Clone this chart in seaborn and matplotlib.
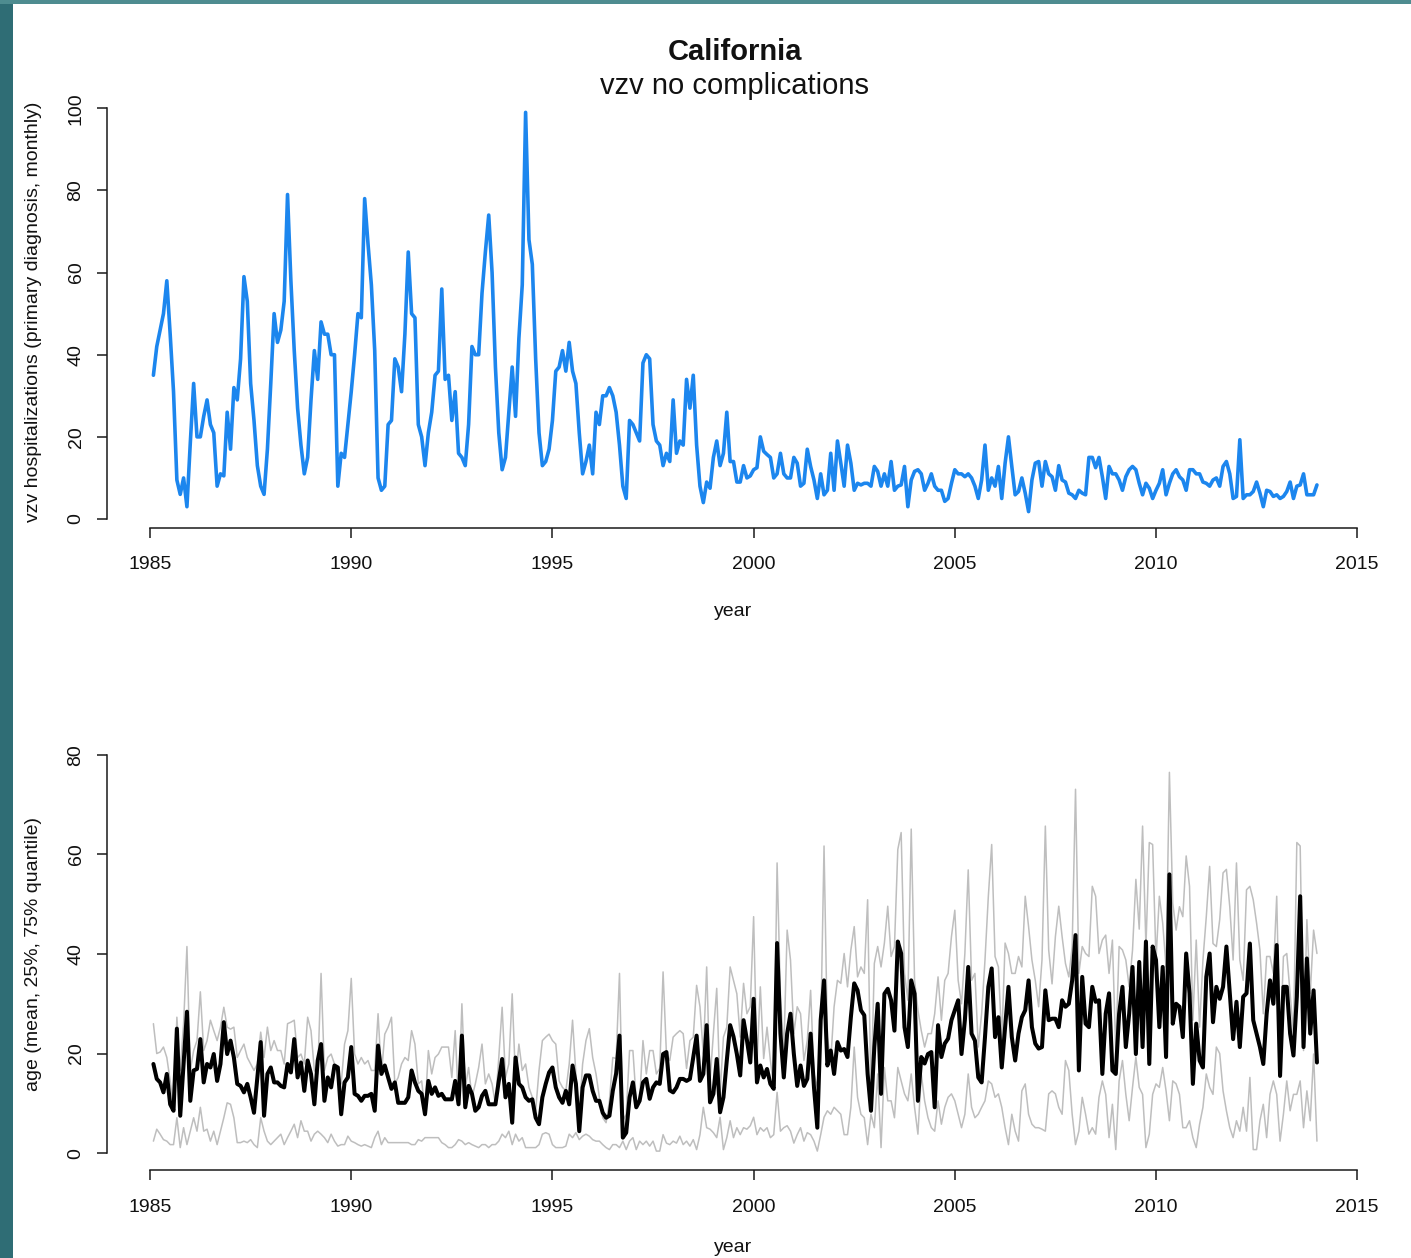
import numpy as np
import pandas as pd
import matplotlib
matplotlib.use("Agg")
import matplotlib.pyplot as plt
import seaborn as sns
from matplotlib.patches import Rectangle

# ---------------- data ----------------
START_YEAR = 1985          # monthly observations, first one plotted at 1985 + 1/12
TITLE = "California"
SUBTITLE = "vzv no complications"
X_TICKS = [1985, 1990, 1995, 2000, 2005, 2010, 2015]
TOP_Y_TICKS = [0, 20, 40, 60, 80, 100]
BOTTOM_Y_TICKS = [0, 20, 40, 60, 80]
TOP_YLABEL = "vzv hospitalizations (primary diagnosis, monthly)"
BOTTOM_YLABEL = "age (mean, 25%, 75% quantile)"
XLABEL = "year"

hospitalizations = [
    35, 42, 46, 50, 58, 45, 31, 9.5, 6, 10, 3, 18.5,
    33, 20, 20, 25, 29, 23, 21, 8, 11, 10.5, 26, 17,
    32, 29, 39, 59, 53, 33, 24, 13, 8, 6, 17, 33,
    50, 43, 46, 53, 79, 58, 41, 27, 18, 11, 15, 29,
    41, 34, 48, 45, 45, 40, 40, 8, 16, 15, 23, 31,
    40, 50, 49, 78, 67, 57, 41, 10, 7, 8, 23, 24,
    39, 37, 31, 45, 65, 50, 49, 23, 20, 13, 21, 26,
    35, 36, 56, 34, 35, 24, 31, 16, 15, 13, 23, 42,
    40, 40, 55, 65, 74, 60, 37, 21, 12, 15, 26, 37,
    25, 44, 57, 99, 68, 62, 39, 21, 13, 14, 17, 24,
    36, 37, 41, 36, 43, 36, 33, 21, 11, 14, 18, 11,
    26, 23, 30, 30, 32, 30, 26, 18, 8, 5, 24, 23,
    21, 19, 38, 40, 39, 23, 19, 18, 13, 16, 14, 29,
    16, 19, 18, 34, 27, 35, 18, 8, 4, 9, 7.5, 15,
    19, 13, 16, 26, 14, 14, 9, 9, 13, 10, 10.5, 12,
    12.5, 20, 16.5, 15.7, 15, 10, 11, 16, 11, 10, 10, 15,
    13.6, 8, 8.7, 17, 12.8, 9.5, 5, 11, 5.9, 7, 16, 7,
    19, 13.6, 8, 18, 13.6, 7, 8.7, 8.3, 8.7, 8.7, 8, 12.8,
    11.6, 8, 11, 8, 14, 7, 8, 8.3, 12.8, 3, 9.5, 11.6,
    12, 11, 7, 8.7, 11, 8, 7, 7, 4.3, 5, 8.7, 12,
    11, 11, 10.3, 11, 10, 8, 5, 9.5, 18, 7, 10, 8,
    12.8, 5, 13.6, 20, 12.8, 5.9, 6.7, 10, 6.3, 1.8, 9.5, 13.6,
    14, 8, 14, 11, 10.3, 7, 13, 9.5, 9, 6.3, 5.9, 5,
    7, 6.3, 5.9, 15, 15, 12.5, 15, 10.3, 5, 12.8, 11, 11,
    9.5, 7, 10.3, 12, 12.8, 12, 8.7, 5.9, 8.7, 7.5, 5, 7,
    8.7, 12, 5.9, 8.7, 11, 12, 10.3, 9.5, 7, 12, 12,
    11, 11, 9, 8.7, 8, 9.5, 10, 8, 12.8, 14, 11, 5,
    5.5, 19.3, 5, 5.9, 5.9, 6.7, 9, 6.3, 3, 7, 6.7, 5.5,
    5.9, 5, 5.5, 6.7, 9, 5, 8, 8.3, 11, 5.9, 5.9, 5.9, 8.3,
]

age_mean = [
    17.9, 14.9, 14.2, 12.2, 15.9, 9.8, 8.5, 25.0, 7.5, 17.9, 28.4, 10.5,
    16.6, 16.9, 22.9, 14.2, 17.9, 17.2, 19.9, 14.5, 17.9, 26.3, 19.9, 22.6,
    19.2, 13.9, 13.5, 12.2, 13.9, 11.2, 8.1, 15.2, 22.3, 7.5, 15.9,
    17.2, 14.2, 14.2, 13.5, 13.2, 17.9, 16.2, 22.9, 15.2, 18.2, 12.5, 18.6,
    15.9, 9.8, 18.6, 21.9, 10.5, 15.2, 13.2, 17.6, 17.2, 7.8, 14.2, 15.2,
    21.3, 11.9, 11.5, 10.5, 11.5, 11.5, 11.9, 8.5,
    21.6, 15.9, 17.6, 15.2, 12.9, 14.2, 10.1, 10.1, 10.1, 11.2, 16.6, 14.2,
    12.5, 11.9, 7.8, 14.5, 11.9, 13.2, 11.5, 11.9, 10.8, 10.8, 10.8, 14.5,
    9.8, 23.6, 9.2, 13.5, 11.9, 8.5, 9.2, 11.5, 12.5, 9.8, 9.8, 9.8,
    14.5, 18.9, 11.2, 13.9, 6.1, 19.2, 13.9, 13.2, 11.2, 10.5, 10.8, 7.1,
    5.8, 11.2, 13.9, 16.2, 17.2, 13.2, 11.2, 10.1, 12.5, 9.8, 17.6, 13.9,
    4.4, 13.2, 15.6, 15.6, 12.5, 10.5, 10.5, 8.1, 7.1, 7.5, 12.5, 16.0,
    23.6, 3.1, 4.1, 11.2, 14.2, 9.2, 10.5, 14.2, 14.9, 10.9, 13.2, 14.2,
    13.9, 19.9, 20.3, 12.6, 12.2, 13.2, 14.9, 14.9, 14.5, 14.9, 19.3, 23.6,
    14.5, 15.9, 25.7, 10.2, 11.9, 18.9, 8.2, 11.2, 18.6, 25.7, 23.4, 19.9,
    15.6, 26.7, 22.7, 18.2, 31.0, 14.2, 17.6, 15.2, 16.9, 13.9, 12.9, 42.2,
    24.0, 15.2, 24.0, 28.0, 19.9, 13.5, 17.6, 13.5, 14.9, 24.0, 13.2, 5.1,
    26.7, 34.7, 17.6, 20.6, 15.9, 22.3, 20.6, 20.9, 19.3, 27.3, 34.1, 32.7,
    28.7, 27.7, 15.9, 8.5, 21.3, 30.0, 11.9, 32.0, 33.0, 30.7, 24.6, 42.5,
    40.1, 25.3, 21.3, 34.7, 32.0, 10.5, 19.3, 18.0, 19.9, 20.3, 9.2, 25.7,
    19.3, 22.0, 23.0, 26.7, 28.7, 30.7, 19.9, 26.7, 37.4, 24.0, 22.6, 15.2,
    14.2, 23.3, 33.4, 37.1, 23.3, 27.3, 17.2, 25.3, 33.4, 23.3, 18.6, 24.0,
    27.3, 28.7, 34.7, 25.3, 22.0, 21.0, 21.3, 32.7, 26.7, 27.0, 27.0, 25.3,
    30.7, 29.4, 30.0, 34.7, 43.8, 16.6, 35.4, 26.0, 25.3, 33.4, 30.4, 30.7,
    15.9, 28.0, 32.1, 16.6, 15.9, 28.0, 33.4, 21.3, 28.0, 37.4, 19.9, 38.4,
    21.3, 42.5, 17.9, 41.5, 38.8, 25.3, 37.4, 19.3, 56.0, 26.0, 30.0, 29.4,
    23.3, 40.1, 32.1, 13.9, 26.0, 18.6, 17.2, 35.4, 40.1, 26.3, 33.4, 31.0,
    33.4, 41.5, 32.1, 22.9, 30.4, 21.3, 31.4, 32.1, 42.1, 26.7, 24.0, 21.3,
    17.9, 28.0, 34.7, 30.0, 41.8, 15.5, 33.4, 33.4, 24.0, 19.6, 31.4, 51.6,
    21.3, 39.1, 24.0, 32.7, 18.2,
]

age_q75 = [
    26.0, 20.0, 20.3, 21.3, 19.2, 14.5, 9.2, 27.3, 16.6, 26.0, 41.5, 16.6,
    20.6, 22.6, 32.4, 20.6, 22.6, 26.7, 24.6, 22.6, 25.3, 29.3, 25.3, 24.9,
    25.3, 19.2, 20.6, 21.9, 19.2, 17.9, 16.6, 17.9, 24.3, 19.2, 25.3,
    20.6, 22.6, 20.6, 20.6, 17.9, 26.0, 26.3, 26.7, 19.2, 19.9, 17.9, 27.3,
    24.6, 16.6, 15.9, 36.1, 16.6, 19.2, 19.9, 17.9, 16.6, 13.9, 21.9, 24.6,
    35.1, 19.9, 17.9, 19.2, 17.9, 18.6, 16.6, 16.6,
    28.0, 15.9, 23.9, 25.3, 27.3, 13.9, 15.2, 17.9, 19.2, 18.6, 24.6, 21.9,
    13.9, 14.5, 8.5, 20.6, 15.9, 19.2, 19.9, 21.3, 21.3, 21.3, 15.2, 24.6,
    9.8, 30.0, 13.2, 17.2, 11.2, 13.9, 17.2, 21.9, 13.9, 15.9, 13.9, 9.8,
    19.2, 29.3, 15.2, 17.9, 32.0, 14.5, 21.9, 16.6, 17.9, 13.2, 11.2, 8.5,
    16.6, 22.6, 23.3, 23.9, 22.6, 21.9, 14.5, 13.2, 12.5, 17.9, 26.7, 15.9,
    7.8, 17.9, 22.6, 25.0, 19.2, 15.9, 11.2, 7.1, 6.1, 10.5, 19.2, 19.0,
    36.1, 6.5, 7.8, 20.6, 20.6, 10.5, 10.5, 22.6, 15.9, 20.6, 20.6, 15.9,
    17.0, 36.4, 19.9, 18.6, 23.3, 24.0, 24.6, 24.0, 17.0, 22.6, 23.3, 33.7,
    29.4, 19.9, 37.4, 14.5, 24.0, 33.1, 12.0, 23.3, 25.3, 37.4, 34.7, 32.0,
    23.3, 34.1, 28.0, 29.4, 47.5, 18.0, 33.4, 19.0, 25.3, 18.6, 13.2, 58.3,
    31.4, 20.6, 44.8, 38.8, 24.0, 29.4, 28.0, 18.6, 22.6, 32.7, 15.9, 13.2,
    24.0, 61.7, 23.3, 18.6, 29.4, 34.7, 34.1, 40.1, 33.4, 40.8, 45.5, 35.4,
    37.4, 36.1, 50.9, 11.2, 38.1, 41.5, 37.4, 42.2, 49.6, 39.5, 41.5, 61.0,
    64.4, 36.1, 30.7, 65.1, 34.7, 28.7, 24.6, 21.3, 24.0, 24.0, 28.0, 35.4,
    26.7, 34.7, 36.1, 43.5, 48.8, 34.7, 30.0, 40.1, 56.9, 34.7, 36.1, 21.3,
    28.0, 38.8, 51.6, 62.0, 39.5, 37.4, 22.6, 42.2, 40.1, 36.1, 36.1, 39.5,
    37.4, 51.6, 45.5, 38.8, 34.7, 29.4, 38.8, 65.7, 40.8, 34.0, 43.5, 49.6,
    43.5, 38.1, 35.4, 41.5, 73.1, 36.1, 41.5, 40.1, 39.5, 53.6, 51.6, 40.1,
    42.8, 43.8, 36.1, 42.8, 20.6, 41.5, 40.8, 38.8, 33.4, 40.8, 55.0, 45.0,
    65.7, 41.5, 62.4, 62.0, 38.8, 51.6, 46.2, 37.4, 76.5, 50.2, 44.8, 49.5,
    47.5, 59.7, 53.6, 26.7, 42.8, 25.3, 38.8, 47.5, 57.6, 42.1, 41.5, 46.9,
    56.3, 57.0, 49.5, 38.8, 58.3, 38.8, 34.7, 52.9, 53.6, 50.9, 46.2, 40.8,
    28.0, 39.5, 39.5, 36.1, 51.6, 20.6, 39.5, 40.1, 32.1, 24.0, 62.4, 61.7,
    20.6, 46.9, 32.1, 44.8, 40.1,
]

age_q25 = [
    2.4, 4.8, 3.8, 2.7, 2.4, 1.7, 1.7, 7.1, 1.1, 5.1, 1.7, 4.4,
    7.1, 4.4, 9.2, 4.4, 4.8, 2.4, 4.4, 1.7, 4.4, 7.1, 10.1, 9.8,
    7.1, 2.1, 2.1, 2.4, 2.1, 2.7, 1.7, 1.1, 7.1, 4.4, 2.4,
    1.7, 2.4, 3.1, 3.8, 1.7, 3.1, 4.4, 5.8, 3.1, 6.5, 4.4, 4.4,
    2.4, 3.8, 4.4, 3.8, 3.1, 2.1, 3.8, 2.4, 1.4, 1.7, 1.7, 3.4,
    2.4, 2.1, 1.7, 1.4, 1.7, 1.4, 1.1, 3.1,
    4.4, 1.7, 3.1, 2.1, 2.1, 2.1, 2.1, 2.1, 2.1, 2.1, 1.7, 1.7,
    2.7, 2.4, 3.1, 3.1, 3.1, 3.1, 3.1, 2.1, 1.7, 1.1, 1.1, 1.7,
    2.7, 2.4, 1.7, 2.1, 1.7, 1.4, 1.1, 1.7, 1.7, 1.1, 1.7, 1.7,
    2.4, 3.8, 3.1, 4.4, 1.7, 3.8, 2.4, 3.1, 1.1, 1.1, 1.1, 1.1,
    1.7, 3.8, 4.1, 3.8, 1.7, 1.1, 1.1, 1.1, 1.4, 3.8, 3.1, 4.1,
    2.7, 3.4, 3.8, 3.4, 2.7, 2.4, 2.4, 1.7, 1.1, 0.7, 1.7, 1.7,
    1.1, 2.4, 0.7, 2.4, 3.1, 0.7, 2.4, 1.7, 2.4, 1.4, 2.4, 0.4,
    0.4, 3.7, 2.0, 1.7, 2.4, 2.0, 3.4, 1.7, 2.4, 1.4, 2.7, 0.7,
    3.7, 9.2, 5.1, 4.8, 4.1, 3.1, 7.2, 0.7, 3.1, 6.5, 3.1, 5.1,
    3.7, 5.1, 4.8, 5.5, 7.2, 3.7, 5.1, 4.4, 5.1, 3.1, 3.7, 12.2,
    4.4, 5.1, 5.5, 4.4, 2.0, 3.7, 5.1, 2.4, 4.1, 3.7, 2.4, 0.4,
    3.7, 7.2, 8.5, 7.8, 9.2, 8.5, 7.8, 3.7, 3.7, 9.2, 21.3, 11.2,
    7.8, 7.1, 1.7, 7.8, 5.1, 15.9, 1.1, 17.2, 10.5, 10.5, 7.1, 17.2,
    14.5, 11.9, 10.5, 15.9, 9.2, 3.8, 15.9, 10.5, 7.1, 5.1, 4.4, 10.5,
    5.8, 9.2, 11.2, 11.9, 10.5, 7.8, 5.1, 7.8, 15.9, 9.2, 7.1, 7.8,
    9.2, 10.5, 14.5, 13.9, 11.2, 11.9, 9.2, 5.1, 1.7, 7.8, 4.4, 2.4,
    12.5, 13.9, 7.8, 5.8, 5.1, 5.1, 4.8, 4.4, 11.9, 12.5, 11.9, 9.2,
    7.8, 18.6, 16.6, 7.8, 1.7, 4.4, 11.2, 7.8, 3.8, 5.1, 3.8, 11.2,
    14.5, 11.8, 3.1, 9.8, 0.7, 14.5, 18.6, 11.8, 6.5, 13.2, 19.3, 13.2,
    11.8, 1.1, 3.8, 11.8, 13.9, 13.2, 17.2, 12.5, 6.5, 14.5, 13.9, 11.8,
    5.1, 5.1, 6.5, 3.1, 1.1, 5.8, 9.2, 15.9, 13.2, 11.8, 21.3, 20.0,
    12.5, 8.5, 5.1, 3.1, 6.5, 4.4, 9.2, 4.4, 15.2, 0.7, 0.7, 6.5,
    9.8, 3.1, 11.8, 14.5, 11.8, 2.4, 7.8, 14.5, 8.5, 11.8, 11.8, 14.5,
    5.1, 12.5, 6.5, 19.9, 2.4,
]


def monthly(series):
    """Decimal year of each monthly observation (month k of the series -> 1985 + k/12)."""
    return START_YEAR + np.arange(1, len(series) + 1) / 12.0


top_df = pd.DataFrame({"year": monthly(hospitalizations), "count": hospitalizations})
mean_df = pd.DataFrame({"year": monthly(age_mean), "age": age_mean})
q25_df = pd.DataFrame({"year": monthly(age_q25), "age": age_q25})
q75_df = pd.DataFrame({"year": monthly(age_q75), "age": age_q75})

# ---------------- style ----------------
sns.set_style("ticks")
plt.rcParams["font.family"] = ["Liberation Sans", "DejaVu Sans"]
plt.rcParams["axes.unicode_minus"] = False

W, H = 1411, 1258
fig = plt.figure(figsize=(W / 100, H / 100), dpi=100)
fig.patch.set_facecolor("white")

# teal slide background visible on the left and top edges of the screenshot
fig.add_artist(Rectangle((0, 0), 13 / W, 1, transform=fig.transFigure,
                         facecolor="#2f6d75", edgecolor="none", zorder=-5))
fig.add_artist(Rectangle((0, 1 - 4 / H), 1, 4 / H, transform=fig.transFigure,
                         facecolor="#4e8c90", edgecolor="none", zorder=-5))


def axes_px(left, top, right, bottom):
    return fig.add_axes([left / W, 1 - bottom / H, (right - left) / W, (bottom - top) / H])


ax1 = axes_px(107, 96.4, 1360, 527.6)
ax2 = axes_px(107, 738, 1360, 1170)

XLIM = (1983.93, 2015.07)

# top panel
sns.lineplot(data=top_df, x="year", y="count", ax=ax1, color="#1C86EE",
             linewidth=2.6, estimator=None, sort=False)
lo, hi = min(hospitalizations), max(hospitalizations)
pad = 0.04 * (hi - lo)
ax1.set_ylim(lo - pad, hi + pad)

# bottom panel
for d in (q75_df, q25_df):
    sns.lineplot(data=d, x="year", y="age", ax=ax2, color="#BEBEBE",
                 linewidth=1.1, estimator=None, sort=False)
sns.lineplot(data=mean_df, x="year", y="age", ax=ax2, color="black",
             linewidth=2.9, estimator=None, sort=False)
ax2.set_ylim(BOTTOM_Y_TICKS[0] - 3.4, BOTTOM_Y_TICKS[-1] + 3.4)


def r_style(ax, yticks, ylabel, xlabelpad):
    ax.set_xlim(*XLIM)
    ax.grid(False)
    ax.set_facecolor("white")
    for s in ("top", "right"):
        ax.spines[s].set_visible(False)
    ax.spines["left"].set_bounds(yticks[0], yticks[-1])
    ax.spines["bottom"].set_bounds(X_TICKS[0], X_TICKS[-1])
    for s in ("left", "bottom"):
        ax.spines[s].set_linewidth(1.1)
        ax.spines[s].set_color("#1a1a1a")
    ax.set_xticks(X_TICKS)
    ax.set_xticklabels([str(t) for t in X_TICKS])
    ax.set_yticks(yticks)
    ax.set_yticklabels([str(t) for t in yticks], rotation=90, va="center")
    ax.tick_params(axis="both", direction="out", length=7.2, width=1.1,
                   labelsize=14, colors="#1a1a1a", labelcolor="#111111")
    ax.tick_params(axis="x", pad=13.5)
    ax.tick_params(axis="y", pad=9)
    ax.set_xlabel(XLABEL, fontsize=14, labelpad=xlabelpad, color="#111111")
    ax.set_ylabel(ylabel, fontsize=14, labelpad=18.5, color="#111111")


r_style(ax1, TOP_Y_TICKS, TOP_YLABEL, 21)
r_style(ax2, BOTTOM_Y_TICKS, BOTTOM_YLABEL, 17)

fig.text(735 / W, 1 - 51.5 / H, TITLE, ha="center", va="center",
         fontsize=21, fontweight="bold", color="#111111")
fig.text(735 / W, 1 - 85.5 / H, SUBTITLE, ha="center", va="center",
         fontsize=21, color="#111111")

fig.savefig("out.png", dpi=100, facecolor=fig.get_facecolor())
